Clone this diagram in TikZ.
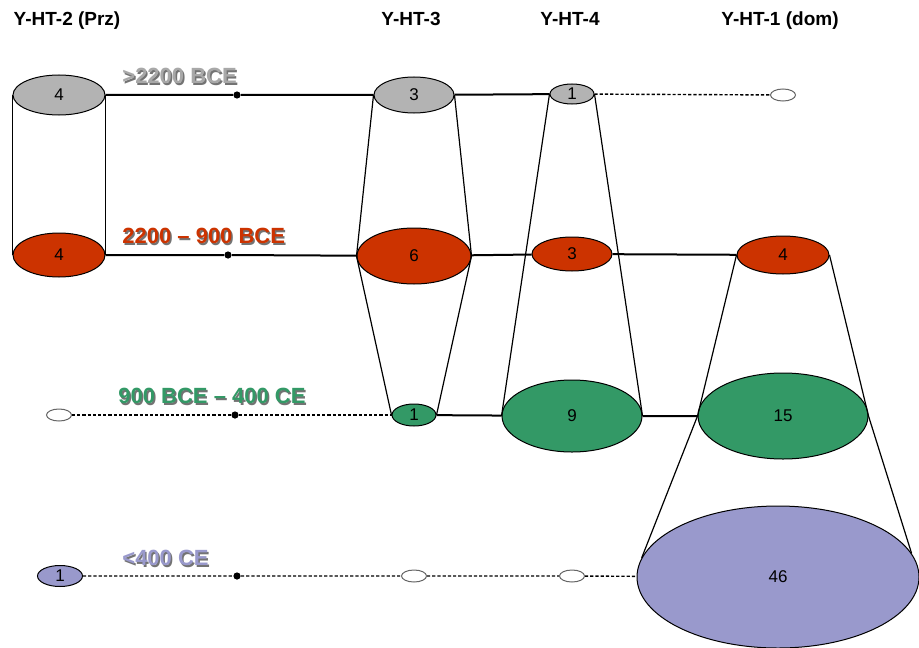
\documentclass[tikz,border=0pt]{standalone}
\usepackage{fontspec}
\setmainfont{Liberation Sans}
\usetikzlibrary{shapes.geometric}

\definecolor{popgray}{HTML}{B3B3B3}
\definecolor{popred}{HTML}{CC3300}
\definecolor{popgreen}{HTML}{339966}
\definecolor{popblue}{HTML}{9999CC}
\definecolor{lblgray}{HTML}{A8A8A8}

\tikzset{
  pop/.style={ellipse, draw=black, line width=0.5pt, inner sep=0pt, font=\fontsize{8.5}{10}\selectfont},
  nopop/.style={ellipse, draw=black!60, fill=white, line width=0.5pt, inner sep=0pt, minimum width=12.5pt, minimum height=6pt},
  hdr/.style={anchor=base, inner sep=0pt, font=\fontsize{9.5}{11}\selectfont\bfseries},
  period/.style={anchor=west, inner sep=0pt, font=\fontsize{11}{13}\selectfont\bfseries},
  shade/.style={period, text=black!55},
  link/.style={line width=1pt},
  gap/.style={line width=0.7pt, dash pattern=on 1.6pt off 1pt},
  side/.style={line width=0.6pt},
  tick/.style={circle, fill=black, inner sep=0pt, minimum size=3.6pt},
}

\begin{document}
\begin{tikzpicture}[x=0.5pt, y=-0.5pt]
        \useasboundingbox (0,0) rectangle (919,647);
        % haplotype columns
        \node[hdr] (hA) at (67,26) {Y-HT-2 (Prz)};
        \node[hdr] (hB) at (411,26) {Y-HT-3};
        \node[hdr] (hC) at (570,26) {Y-HT-4};
        \node[hdr] (hD) at (780,26) {Y-HT-1 (dom)};

        % >2200 BCE
        \node[pop, fill=popgray, minimum width=46pt, minimum height=20pt] (A1) at (59,95) {4}; %
        \node[pop, fill=popgray, minimum width=40pt, minimum height=18pt] (B1) at (414,95) {3}; %
        \node[pop, fill=popgray, minimum width=22pt, minimum height=10pt] (C1) at (572,94) {1}; %
        \node[nopop] (D1) at (783,95) {}; %

        % 2200 - 900 BCE
        \node[pop, fill=popred, minimum width=46pt, minimum height=22pt] (A2) at (59,255) {4}; %
        \node[pop, fill=popred, minimum width=57pt, minimum height=28pt] (B2) at (414,256) {6}; %
        \node[pop, fill=popred, minimum width=40pt, minimum height=17pt] (C2) at (572,254) {3}; %
        \node[pop, fill=popred, minimum width=46pt, minimum height=19pt] (D2) at (783,255) {4}; %

        % 900 BCE - 400 CE
        \node[nopop] (A3) at (59,415) {}; %
        \node[pop, fill=popgreen, minimum width=22pt, minimum height=11pt] (B3) at (414,415) {1}; %
        \node[pop, fill=popgreen, minimum width=70pt, minimum height=36pt] (C3) at (572,416) {9}; %
        \node[pop, fill=popgreen, minimum width=85pt, minimum height=43pt] (D3) at (783,416) {15}; %

        % <400 CE
        \node[pop, fill=popblue, minimum width=22.5pt, minimum height=10.5pt] (A4) at (60,576) {1}; %
        \node[nopop] (B4) at (414,576) {}; %
        \node[nopop] (C4) at (572,576) {}; %
        \node[pop, fill=popblue, minimum width=141pt, minimum height=71pt] (D4) at (778,577) {46}; %

        % period labels
        \node[shade] (s1) at (123.5,77.5) {>2200 BCE};
        \node[period, text=lblgray] (p1) at (122,76) {>2200 BCE};
        \node[shade] (s2) at (123.5,237.5) {2200 – 900 BCE};
        \node[period, text=popred] (p2) at (122,236) {2200 – 900 BCE};
        \node[shade] (s3) at (119.5,397.5) {900 BCE – 400 CE};
        \node[period, text=popgreen] (p3) at (118,396) {900 BCE – 400 CE};
        \node[shade] (s4) at (123.5,559.5) {<400 CE};
        \node[period, text=popblue] (p4) at (122,558) {<400 CE};

        \node[tick] (t1) at (237,95) {};
        \node[tick] (t2) at (228,255) {};
        \node[tick] (t3) at (235,415) {};
        \node[tick] (t4) at (237,576) {};

        % rows
        \draw[link] (A1) -- (t1) -- (B1) -- (C1);
        \draw[gap] (C1) -- (D1);
        \draw[link] (A2) -- (t2) -- (B2) -- (C2) -- (D2);
        \draw[gap] (A3) -- (t3) -- (B3);
        \draw[link] (B3) -- (C3) -- (D3);
        \draw[gap] (A4) -- (t4) -- (B4) -- (C4) -- (D4);

        % lineages
        \draw[side] (A1.west) -- (A2.west) (A1.east) -- (A2.east);
        \draw[side] (B1.west) -- (B2.west) -- (B3.west);
        \draw[side] (B1.east) -- (B2.east) -- (B3.east);
        \draw[side] (C1.west) -- (C3.west) (C1.east) -- (C3.east);
        \draw[side] (D2.west) -- (D3.west) -- (D4.172.5);
        \draw[side] (D2.east) -- (D3.east) -- (D4.10);
    \end{tikzpicture}
\end{document}
